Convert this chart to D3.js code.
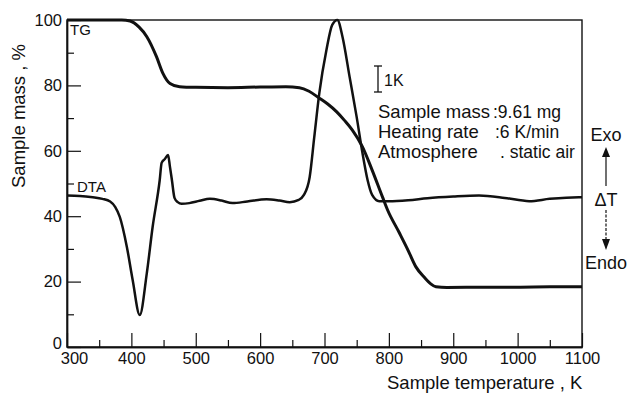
<!DOCTYPE html>
<html>
<head>
<meta charset="utf-8">
<script src="https://cdn.jsdelivr.net/npm/d3@7"></script>
<style>
  body { margin: 0; background: #fff; }
  text { font-family: 'Liberation Sans', Arial, sans-serif; fill: #111; }
</style>
</head>
<body>
<div id="chart"></div>
<script>
// TG curve (sample mass, %)
const tgTemp = [300, 360, 385, 398, 412, 424, 439, 449, 460, 475, 500, 550, 600, 640, 661, 676, 692, 705, 719, 731, 743, 759, 774, 790, 798, 816, 830, 842, 855, 865, 873, 890, 950, 1000, 1050, 1100];
const tgMass = [100, 100, 100, 99.7, 97.8, 94.9, 88.8, 83.7, 80.6, 79.6, 79.4, 79.3, 79.5, 79.6, 79.3, 78.2, 76.1, 74.3, 71.9, 69.3, 66.4, 61.2, 54.1, 45.9, 41.9, 35, 29.5, 24.5, 21.3, 19.3, 18.4, 18.2, 18.3, 18.3, 18.4, 18.4];

// DTA curve, drawn in the same plot units
const dtaTemp = [300, 320, 340, 355, 367, 375, 382, 393, 402, 413, 424, 433, 444, 447, 452, 457, 460, 463, 467, 472, 478, 490, 506, 522, 540, 557, 580, 610, 630, 646, 660, 668, 677, 684, 692, 703, 712, 720, 728, 739, 750, 759, 767, 774, 785, 800, 830, 860, 900, 940, 980, 1018, 1050, 1095, 1100];
const dtaVal = [46.3, 46.2, 45.8, 45.3, 44.5, 42.8, 39.8, 30.6, 20.5, 9.8, 22.6, 36.7, 51, 56.3, 57.5, 58.7, 55, 51, 45.6, 44.3, 43.8, 44.0, 44.7, 45.3, 44.8, 44.0, 44.5, 45.2, 44.8, 44.3, 45, 46.5, 52, 64, 77.7, 90.8, 98.5, 100, 94.8, 82.6, 70.3, 59.3, 51, 46.5, 44.6, 44.6, 44.9, 45.5, 46, 46.3, 45.6, 44.6, 45.3, 45.8, 45.8];

const xMajor = [300, 400, 500, 600, 700, 800, 900, 1000, 1100];
const xMinor = [350, 450, 550, 650, 750, 850, 950, 1050];
const yMajor = [0, 20, 40, 60, 80, 100];
const yMinor = [10, 30, 50, 70, 90];

const conditionLabels = ['Sample mass', 'Heating rate', 'Atmosphere'];
const conditionValues = [':9.61 mg', ':6 K/min', '. static air'];

const width = 634;
const height = 393;
const margin = {top: 20, right: 52, bottom: 46, left: 67};

const svg = d3.select('#chart')
  .append('svg')
  .attr('width', width)
  .attr('height', height);

const x = d3.scaleLinear()
  .domain([300, 1100])
  .range([margin.left, width - margin.right]);

const y = d3.scaleLinear()
  .domain([0, 100])
  .range([height - margin.bottom, margin.top]);

// frame
svg.append('rect')
  .attr('x', x(300))
  .attr('y', y(100))
  .attr('width', x(1100) - x(300))
  .attr('height', y(0) - y(100))
  .attr('fill', 'none')
  .attr('stroke', '#111')
  .attr('stroke-width', 1.4);

// x axis
const xAxis = svg.append('g')
  .attr('transform', 'translate(0,' + y(0) + ')')
  .call(d3.axisBottom(x).tickValues(xMajor).tickSize(-14).tickSizeOuter(0).tickPadding(5).tickFormat(d3.format('d')));
xAxis.append('g')
  .call(d3.axisBottom(x).tickValues(xMinor).tickSize(-7).tickSizeOuter(0).tickFormat(''));
xAxis.selectAll('.domain').attr('stroke', '#111').attr('stroke-width', 1.4);
xAxis.selectAll('.tick line').attr('stroke', '#111').attr('stroke-width', 1.2);
xAxis.selectAll('.tick text')
  .attr('font-size', 16.5)
  .attr('font-family', 'Liberation Sans, Arial, sans-serif')
  .attr('fill', '#111')
  .attr('dx', d => d === 300 ? 7 : 0);

// y axis
const yAxis = svg.append('g')
  .attr('transform', 'translate(' + x(300) + ',0)')
  .call(d3.axisLeft(y).tickValues(yMajor).tickSize(-14).tickSizeOuter(0).tickPadding(5));
yAxis.append('g')
  .call(d3.axisLeft(y).tickValues(yMinor).tickSize(-7).tickSizeOuter(0).tickFormat(''));
yAxis.selectAll('.domain').attr('stroke', '#111').attr('stroke-width', 1.4);
yAxis.selectAll('.tick line').attr('stroke', '#111').attr('stroke-width', 1.2);
yAxis.selectAll('.tick text')
  .attr('font-size', 16.5)
  .attr('font-family', 'Liberation Sans, Arial, sans-serif')
  .attr('fill', '#111')
  .attr('dy', d => d === 0 ? '0.1em' : '0.32em');

// axis titles
svg.append('text')
  .attr('transform', 'translate(25,116) rotate(-90)')
  .attr('text-anchor', 'middle')
  .attr('font-size', 18.5)
  .text('Sample mass , %');

svg.append('text')
  .attr('x', 387)
  .attr('y', 389)
  .attr('font-size', 18.5)
  .text('Sample temperature , K');

// curves
const line = d3.line()
  .x(d => x(d[0]))
  .y(d => y(d[1]))
  .curve(d3.curveMonotoneX);

svg.append('path')
  .datum(d3.zip(tgTemp, tgMass))
  .attr('fill', 'none')
  .attr('stroke', '#111')
  .attr('stroke-width', 3)
  .attr('stroke-linejoin', 'round')
  .attr('d', line);

svg.append('path')
  .datum(d3.zip(dtaTemp, dtaVal))
  .attr('fill', 'none')
  .attr('stroke', '#111')
  .attr('stroke-width', 2.5)
  .attr('stroke-linejoin', 'round')
  .attr('d', line);

// curve labels
svg.append('text').attr('x', 70).attr('y', 35).attr('font-size', 15).text('TG');
svg.append('text').attr('x', 77).attr('y', 192).attr('font-size', 15).text('DTA');

// 1K scale bar
const bar = svg.append('g').attr('stroke', '#111').attr('stroke-width', 1.3);
bar.append('line').attr('x1', 378).attr('x2', 378).attr('y1', 66).attr('y2', 92);
bar.append('line').attr('x1', 374).attr('x2', 382).attr('y1', 66).attr('y2', 66);
bar.append('line').attr('x1', 374).attr('x2', 382).attr('y1', 92).attr('y2', 92);
svg.append('text').attr('x', 384).attr('y', 86).attr('font-size', 16).text('1K');

// measurement conditions
svg.append('g').selectAll('text')
  .data(conditionLabels)
  .enter()
  .append('text')
  .attr('x', 378)
  .attr('y', (d, i) => 118 + i * 20)
  .attr('font-size', 18.5)
  .text(d => d);

svg.append('g').selectAll('text')
  .data(conditionValues)
  .enter()
  .append('text')
  .attr('x', (d, i) => [493, 495, 500][i])
  .attr('y', (d, i) => 118 + i * 20)
  .attr('font-size', 17.5)
  .text(d => d);

// Exo / ΔT / Endo indicator
const ax = 606;
svg.append('text').attr('x', ax).attr('y', 141).attr('text-anchor', 'middle').attr('font-size', 18).text('Exo');
svg.append('text').attr('x', ax).attr('y', 206).attr('text-anchor', 'middle').attr('font-size', 18).text('ΔT');
svg.append('text').attr('x', ax).attr('y', 269).attr('text-anchor', 'middle').attr('font-size', 18).text('Endo');
svg.append('path')
  .attr('d', `M${ax},147 L${ax - 4},157 L${ax + 4},157 Z`)
  .attr('fill', '#111');
svg.append('line').attr('x1', ax).attr('x2', ax).attr('y1', 157).attr('y2', 186)
  .attr('stroke', '#111').attr('stroke-width', 1.2);
svg.append('line').attr('x1', ax).attr('x2', ax).attr('y1', 210).attr('y2', 239)
  .attr('stroke', '#111').attr('stroke-width', 1.2).attr('stroke-dasharray', '3,1.5');
svg.append('path')
  .attr('d', `M${ax},250 L${ax - 4},239 L${ax + 4},239 Z`)
  .attr('fill', '#111');
</script>
</body>
</html>
